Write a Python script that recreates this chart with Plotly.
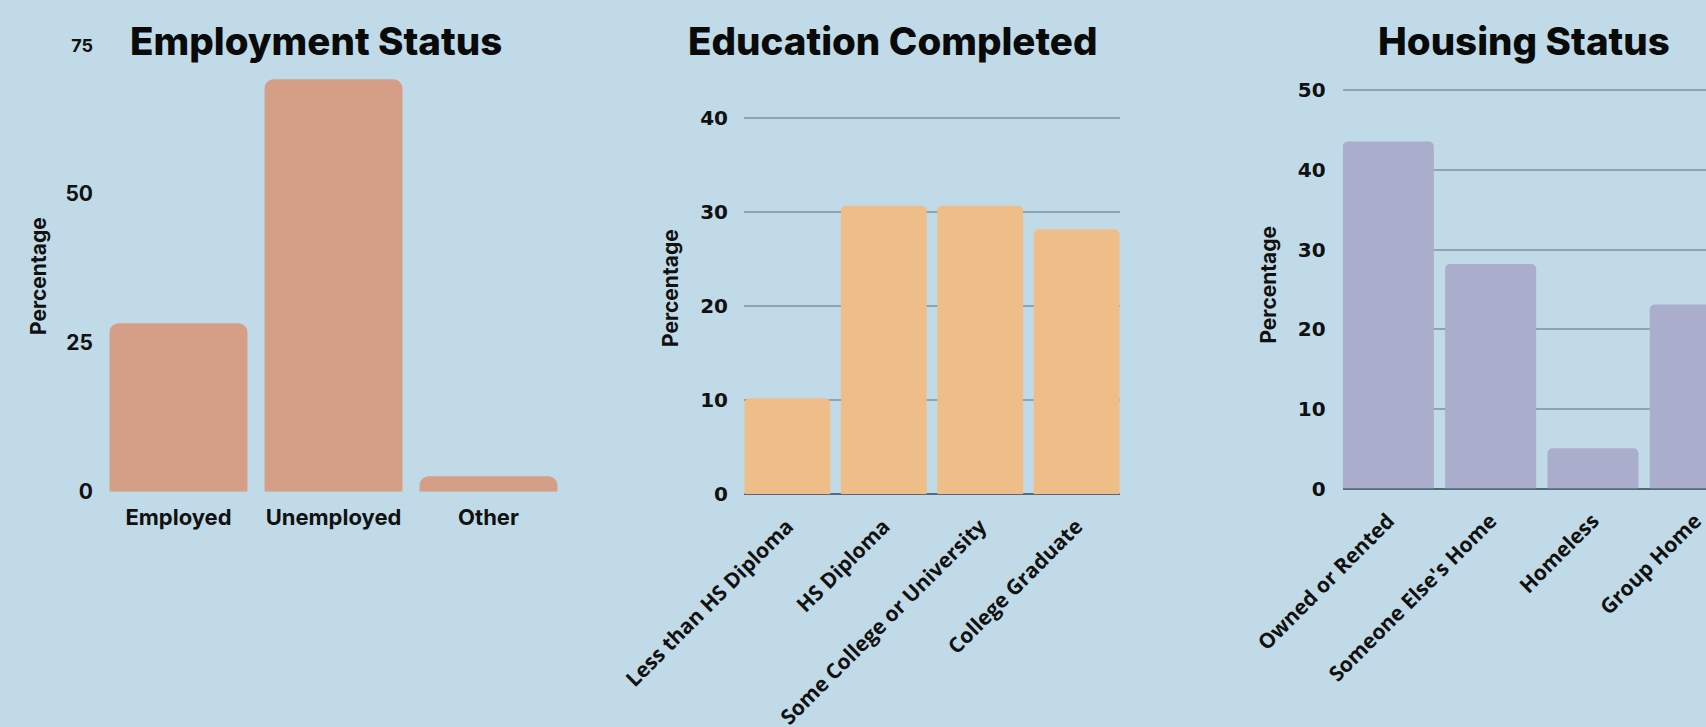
import plotly.graph_objects as go

# ---- data ----
emp_categories = ["Employed", "Unemployed", "Other"]
emp_values = [28.3, 69.2, 2.6]

edu_categories = ["Less than HS Diploma", "HS Diploma", "Some College or University", "College Graduate"]
edu_values = [10.2, 30.7, 30.7, 28.2]

housing_categories = ["Owned or Rented", "Someone Else's Home", "Homeless", "Group Home"]
housing_values = [43.6, 28.2, 5.05, 23.1]

emp_ticks = [0, 25, 50, 75]
edu_ticks = [0, 10, 20, 30, 40]
housing_ticks = [0, 10, 20, 30, 40, 50]

W, H = 1706, 727
BG = "#c0dbe7"
GRID = "#8fa3b0"
TITLE_FONT = "Inter"
TICK_FONT = "DejaVu Sans"
LABEL_FONT = "Open Sans"

fig = go.Figure()
fig.add_trace(go.Bar(x=emp_categories, y=emp_values, marker=dict(color="#d59f87", cornerradius=9, line=dict(width=0)),
                     xaxis="x", yaxis="y", hoverinfo="x+y"))
fig.add_trace(go.Bar(x=edu_categories, y=edu_values, marker=dict(color="#efbe88", cornerradius=5, line=dict(width=0)),
                     xaxis="x2", yaxis="y2", hoverinfo="x+y"))
fig.add_trace(go.Bar(x=housing_categories, y=housing_values, marker=dict(color="#aaaecc", cornerradius=5, line=dict(width=0)),
                     xaxis="x3", yaxis="y3", hoverinfo="x+y"))

def px_x(v):
    return v / W

def px_y(v):
    return 1 - v / H

emp_ticktext = [str(t) for t in emp_ticks]
emp_ticktext[-1] = "<span style='font-size:18px'>%s</span>" % emp_ticks[-1]

common = dict(automargin=False, showline=False, ticks="")

fig.update_layout(
    template="none",
    width=W, height=H,
    margin=dict(l=0, r=0, t=0, b=0, pad=0),
    paper_bgcolor=BG, plot_bgcolor=BG,
    showlegend=False,
    bargap=0.11,
    xaxis=dict(domain=[px_x(101), px_x(566)], range=[-0.5, 2.5], showgrid=False, zeroline=False,
               tickfont=dict(family=TITLE_FONT, size=22, color="#111", weight="bold"),
               ticklabelstandoff=10, anchor="y", **common),
    yaxis=dict(domain=[px_y(491.8), px_y(44.8)], range=[0, 75], tickvals=emp_ticks, ticktext=emp_ticktext,
               showgrid=False, zeroline=False,
               tickfont=dict(family=TITLE_FONT, size=21, color="#111", weight="bold"), ticklabelstandoff=7,
               anchor="x", **common),
    xaxis2=dict(domain=[px_x(744), px_x(1120)], range=[-0.45, 3.45], showgrid=False, zeroline=False,
                tickangle=-45,
                tickfont=dict(family=LABEL_FONT, size=21, color="#111", weight="bold"),
                ticklabelstandoff=15, anchor="y2", **common),
    yaxis2=dict(domain=[px_y(494), px_y(115.6)], range=[0, 40.3], tickvals=edu_ticks,
                showgrid=True, gridcolor=GRID, gridwidth=1.5, zeroline=True, zerolinecolor="#56697a",
                zerolinewidth=1.5,
                tickfont=dict(family=TICK_FONT, size=20, color="#111", weight="bold"),
                ticklabelstandoff=15, anchor="x2", **common),
    xaxis3=dict(domain=[px_x(1342.6), 1.0], range=[-0.447, 3.105], showgrid=False, zeroline=False,
                tickangle=-45,
                tickfont=dict(family=LABEL_FONT, size=21, color="#111", weight="bold"),
                ticklabelstandoff=15, anchor="y3", **common),
    yaxis3=dict(domain=[px_y(488.5), px_y(88.1)], range=[0, 50.3], tickvals=housing_ticks,
                showgrid=True, gridcolor=GRID, gridwidth=1.5, zeroline=True, zerolinecolor="#56697a",
                zerolinewidth=1.5,
                tickfont=dict(family=TICK_FONT, size=20, color="#111", weight="bold"),
                ticklabelstandoff=16, anchor="x3", **common),
)

titles = [("Employment Status", 315.5), ("Education Completed", 892.5), ("Housing Status", 1523.7)]
for text, cx in titles:
    fig.add_annotation(text=text, x=px_x(cx), y=px_y(41), xref="paper", yref="paper",
                       showarrow=False, xanchor="center", yanchor="middle",
                       font=dict(family=TITLE_FONT, size=38.5, color="#0a0a0a", weight=800))

ytitles = [(38, 276), (671, 288), (1267.6, 285)]
for cx, cy in ytitles:
    fig.add_annotation(text="Percentage", x=px_x(cx), y=px_y(cy), xref="paper", yref="paper",
                       showarrow=False, xanchor="center", yanchor="middle", textangle=-90,
                       font=dict(family=TITLE_FONT, size=21, color="#111", weight="bold"))

fig.write_html("out.html")
